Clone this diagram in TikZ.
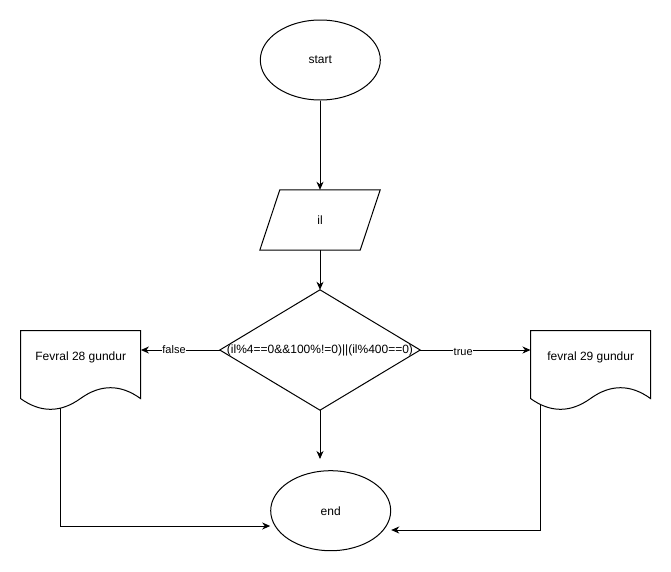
\documentclass[tikz,border=0pt]{standalone}
\usepackage{fontspec}
\setmainfont{Liberation Sans}
\usetikzlibrary{shapes.geometric,arrows.meta,calc}

\tikzset{
  lbl/.style={font=\fontsize{12}{14}\selectfont, inner sep=0pt},
  edgelbl/.style={font=\fontsize{11}{13}\selectfont, fill=white, inner sep=0.5pt},
  term/.style={ellipse, draw, line width=1pt, minimum width=120, minimum height=80,
    inner sep=0pt, font=\fontsize{12}{14}\selectfont},
  frame/.style={rectangle, draw=none, inner sep=0pt},
  outline/.style={draw, line width=1pt, line join=miter},
  flow/.style={draw, line width=1pt, -{Stealth[length=8pt,width=7pt,inset=2.5pt]}},
  link/.style={draw, line width=1pt},
}

% document (wavy bottom) outline drawn from the top-left corner of a 120x80 frame
\newcommand\docoutline[1]{%
  \path[outline, shift={(#1.north west)}]
    (0,0) -- (120,0) -- (120,68)
    .. controls (100,53.6) and (80,53.6) .. (60,68)
    .. controls (40,82.4) and (20,82.4) .. (0,68) -- cycle;}

\begin{document}
\begin{tikzpicture}[x=1pt, y=-1pt]
  \path[use as bounding box, fill=white] (0,0) rectangle (671,571);

  % terminals
  \node[term] (start) at (320.3,60) {start};
  \node[term] (endn) at (330.7,510.7) {end};

  % input
  \node[frame, minimum width=120, minimum height=60] (il) at (320,220) {};
  \path[outline] ($(il.north west)+(20,0)$) -- (il.north east)
    -- ($(il.south east)+(-20,0)$) -- (il.south west) -- cycle;
  \node[lbl] (iltxt) at (il.center) {il};

  % decision
  \node[frame, minimum width=200, minimum height=120] (d) at (320,350) {};
  \path[outline] (d.north) -- (d.east) -- (d.south) -- (d.west) -- cycle;
  \node[lbl] (dtxt) at (d.center) {(il\%4==0\&\&100\%!=0)||(il\%400==0)};

  % outputs
  \node[frame, minimum width=120, minimum height=80] (f28) at (80.7,370.7) {};
  \docoutline{f28}
  \node[lbl] (f28txt) at ($(f28.north)+(0,26.5)$) {Fevral 28 gundur};

  \node[frame, minimum width=120, minimum height=80] (f29) at (590.7,370.7) {};
  \docoutline{f29}
  \node[lbl] (f29txt) at ($(f29.north)+(0,27)$) {fevral 29 gundur};

  % connector end points
  \coordinate (f28out) at ($(f28.north west)+(40,77.3)$);
  \coordinate (f29out) at ($(f29.north west)+(10,73.5)$);
  \coordinate (endL) at ($(endn.west)+(0,15.3)$);
  \coordinate (endR) at ($(endn.east)+(0,19.3)$);
  \coordinate (endT) at (320,459);

  % connectors
  \path[flow] (start.south -| il.north) -- (il.north);
  \path[flow] (il.south) -- (d.north);
  \path[flow] (d.west) -- (d.west -| f28.east)
    node[edgelbl, pos=0.58] {false};
  \path[flow] (d.east) -- (d.east -| f29.west)
    node[edgelbl, pos=0.39, yshift=-1.5] {true};
  \path[flow] (d.south) -- (endT);
  \path[flow] (f28out) |- (endL);
  \path[flow] (f29out) |- (endR);
\end{tikzpicture}
\end{document}
